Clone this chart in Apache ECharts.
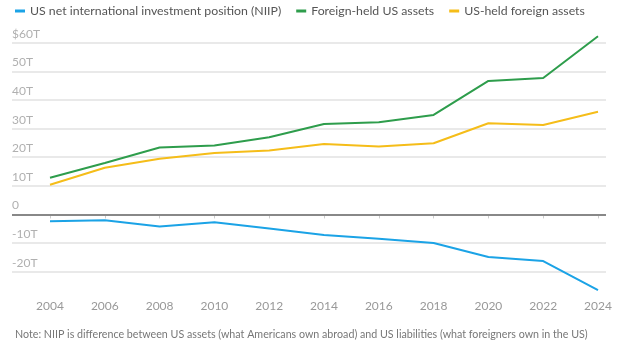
<!DOCTYPE html>
<html>
<head>
<meta charset="utf-8">
<script src="https://cdn.jsdelivr.net/npm/echarts@6/dist/echarts.min.js"></script>
<style>
html,body{margin:0;padding:0;background:#fff;}
#chart{width:626px;height:345px;}
</style>
</head>
<body>
<div id="chart"></div>
<script>
var years = [2004, 2006, 2008, 2010, 2012, 2014, 2016, 2018, 2020, 2022, 2024];
var niip = [-2.4, -2.0, -4.2, -2.7, -4.9, -7.2, -8.5, -10.0, -14.9, -16.3, -26.5];
var foreignHeldUS = [12.8, 18.0, 23.4, 24.1, 27.0, 31.6, 32.2, 34.8, 46.7, 47.7, 62.3];
var usHeldForeign = [10.4, 16.3, 19.5, 21.5, 22.4, 24.6, 23.8, 24.9, 31.9, 31.3, 35.9];
var yTicks = [-20, -10, 0, 10, 20, 30, 40, 50, 60];
var seriesNames = ['US net international investment position (NIIP)', 'Foreign-held US assets', 'US-held foreign assets'];
var noteText = 'Note: NIIP is difference between US assets (what Americans own abroad) and US liabilities (what foreigners own in the US)';

function pairs(vals) { return years.map(function (y, i) { return [y, vals[i]]; }); }

var FONT = 'Lato';
var chart = echarts.init(document.getElementById('chart'), null, {renderer: 'canvas'});
chart.setOption({
  animation: false,
  backgroundColor: '#ffffff',
  color: ['#1ba3e6', '#2e9d4c', '#f5bd19'],
  textStyle: {fontFamily: FONT},
  title: {
    text: noteText,
    left: 10, bottom: 0,
    textStyle: {fontFamily: FONT, fontSize: 10.7, fontWeight: 'normal', color: '#777'}
  },
  legend: {
    top: 0, left: 10,
    icon: 'rect', itemWidth: 10, itemHeight: 3, itemGap: 15,
    textStyle: {fontFamily: FONT, fontSize: 12.3, color: '#555'},
    data: seriesNames
  },
  grid: {left: 12, right: 20, top: 30, bottom: 54.5, containLabel: false},
  xAxis: {
    type: 'value', min: 2002.613, max: 2024.292,
    axisLine: {show: false},
    splitLine: {show: false},
    axisTick: {show: true, customValues: years, length: 4, lineStyle: {color: '#cccccc'}},
    axisLabel: {customValues: years, margin: 10, color: '#999', fontSize: 12, fontFamily: FONT,
      formatter: function (v) { return String(v); }}
  },
  yAxis: {
    type: 'value', min: -26.6, max: 64.5,
    axisLine: {show: false},
    axisTick: {show: false, customValues: yTicks},
    splitLine: {show: true, lineStyle: {color: '#e2e2e2', width: 1.5}},
    axisLabel: {
      customValues: yTicks, inside: true, margin: 0, verticalAlign: 'bottom', padding: [0, 0, 3, 0],
      color: '#b0b0b0', fontSize: 12, fontFamily: FONT,
      formatter: function (v) { return v === 60 ? '$60T' : (v === 0 ? '0' : v + 'T'); }
    }
  },
  series: [
    {name: seriesNames[0], type: 'line', data: pairs(niip), symbol: 'none', lineStyle: {width: 2},
      markLine: {silent: true, symbol: 'none', label: {show: false},
        lineStyle: {color: '#888', width: 2, type: 'solid'}, data: [{yAxis: 0}]}},
    {name: seriesNames[1], type: 'line', data: pairs(foreignHeldUS), symbol: 'none', lineStyle: {width: 2}},
    {name: seriesNames[2], type: 'line', data: pairs(usHeldForeign), symbol: 'none', lineStyle: {width: 2}}
  ]
});
</script>
</body>
</html>
